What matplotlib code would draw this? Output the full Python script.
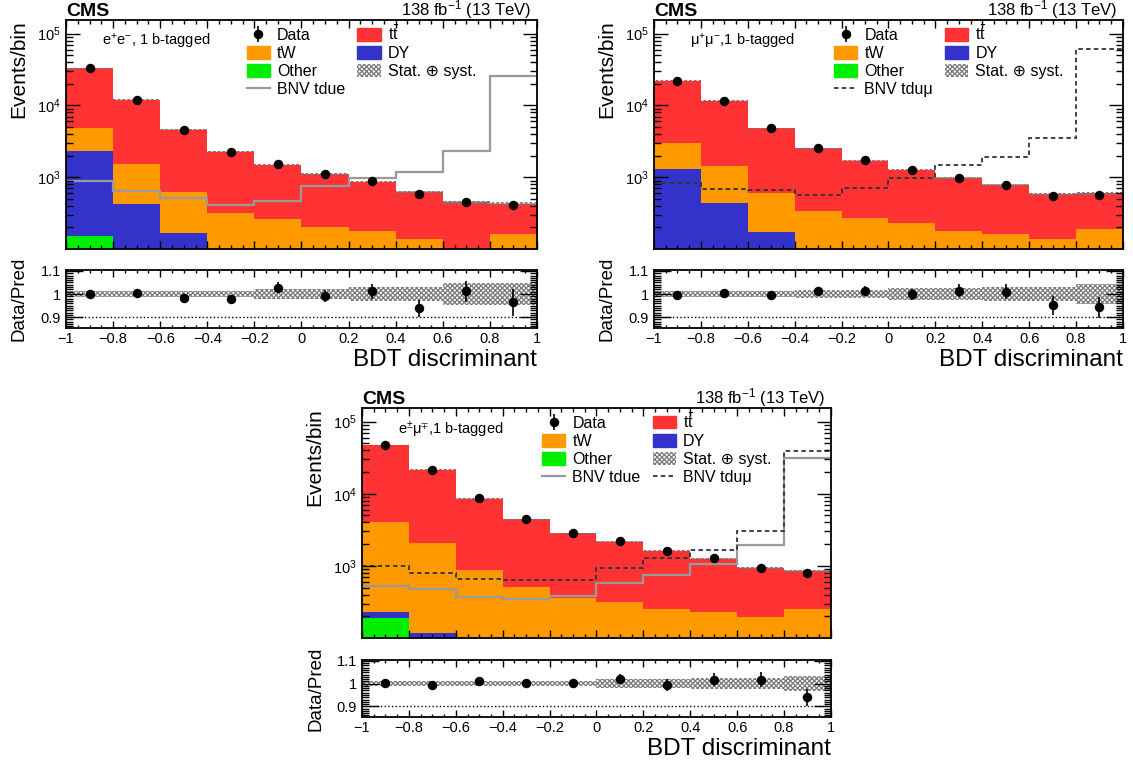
import numpy as np
import matplotlib
matplotlib.use('Agg')
import matplotlib.pyplot as plt
from matplotlib.patches import Patch
from matplotlib.lines import Line2D
from matplotlib.ticker import MultipleLocator, FixedLocator, FuncFormatter, LogLocator, NullFormatter

plt.rcParams['font.family'] = ['Liberation Sans', 'DejaVu Sans']
plt.rcParams['mathtext.fontset'] = 'custom'
plt.rcParams['mathtext.rm'] = 'Liberation Sans'
plt.rcParams['mathtext.it'] = 'Liberation Sans:italic'
plt.rcParams['mathtext.bf'] = 'Liberation Sans:bold'
plt.rcParams['mathtext.default'] = 'regular'
plt.rcParams['hatch.linewidth'] = 0.9
plt.rcParams['hatch.color'] = '#7a7a7a'

# BDT bins
bin_edges = [-1.0, -0.8, -0.6, -0.4, -0.2, 0.0, 0.2, 0.4, 0.6, 0.8, 1.0]

# ee channel
ee_other = [150, 60, 35, 20, 15, 12, 10, 8, 6, 8]
ee_dy = [2150, 360, 132, 40, 20, 12, 8, 5, 4, 3]
ee_tw = [2500, 1130, 463, 258, 225, 176, 159, 123, 94, 151]
ee_tt = [28200, 10450, 3970, 1962, 1240, 910, 693, 489, 346, 263]
ee_data = [33000, 12060, 4522, 2234, 1542, 1102, 880, 586, 455, 410]
ee_ratio_err = [0.006, 0.009, 0.014, 0.018, 0.024, 0.026, 0.033, 0.038, 0.047, 0.058]
ee_band = [0.015, 0.015, 0.015, 0.015, 0.023, 0.023, 0.029, 0.029, 0.047, 0.047]
ee_bnv_tdue = [880, 640, 520, 411, 462, 750, 960, 1190, 2300, 26000]

# mumu channel
mm_other = [60, 30, 20, 10, 8, 6, 5, 4, 3, 4]
mm_dy = [1230, 404, 151, 40, 20, 12, 8, 5, 4, 3]
mm_tw = [1690, 1021, 440, 289, 245, 210, 164, 151, 132, 185]
mm_tt = [19120, 10145, 4219, 2201, 1417, 1052, 793, 612, 446, 406]
mm_data = [22034, 11646, 4811, 2573, 1712, 1279, 984, 780, 556, 564]
mm_ratio_err = [0.005, 0.008, 0.012, 0.016, 0.02, 0.024, 0.028, 0.032, 0.04, 0.045]
mm_band = [0.013, 0.013, 0.013, 0.019, 0.019, 0.027, 0.027, 0.03, 0.03, 0.044]
mm_bnv_tdumu = [834, 687, 665, 566, 710, 980, 1470, 1940, 3540, 62000]

# emu channel
em_other = [191, 90, 45, 30, 22, 18, 14, 12, 10, 10]
em_dy = [40, 26, 15, 10, 8, 7, 6, 6, 5, 5]
em_tw = [3869, 1954, 829, 475, 332, 287, 235, 208, 180, 237]
em_tt = [43200, 19430, 7681, 3905, 2458, 1848, 1378, 1039, 733, 609]
em_data = [47440, 21370, 8680, 4430, 2830, 2205, 1622, 1287, 944, 809]
em_ratio_err = [0.005, 0.007, 0.011, 0.015, 0.019, 0.021, 0.025, 0.028, 0.033, 0.036]
em_band = [0.011, 0.011, 0.011, 0.011, 0.012, 0.02, 0.02, 0.025, 0.025, 0.033]
em_bnv_tdue = [532, 478, 374, 347, 378, 586, 750, 1077, 1940, 31800]
em_bnv_tdumu = [980, 807, 659, 638, 630, 948, 1280, 1670, 3040, 39000]

RED = '#ff3333'
ORANGE = '#ff9900'
BLUE = '#3333cc'
GREEN = '#00ee00'
HATCH = '#7a7a7a'

edges = np.array(bin_edges)
centers = 0.5 * (edges[1:] + edges[:-1])

tdue_style = dict(color='#999999', lw=1.6, ls='-')
tdumu_style = dict(color='#333333', lw=1.3, ls=(0, (2.5, 1.8)))

fig = plt.figure(figsize=(11.33, 7.69), dpi=100)


def xfmt(v, pos):
    s = '%g' % round(v, 2)
    if s == '-0':
        s = '0'
    return s.replace('-', '\u2212')


def draw_panel(rect_main, rect_ratio, other, dy, tw, tt, data, ratio_err, band,
               channel, bnv):
    other, dy, tw, tt = map(np.array, (other, dy, tw, tt))
    data = np.array(data)
    ratio_err = np.array(ratio_err)
    band = np.array(band)
    c1 = other
    c2 = c1 + dy
    c3 = c2 + tw
    c4 = c3 + tt

    ax = fig.add_axes(rect_main)
    ax.stairs(c4, edges, baseline=c3, fill=True, color=RED, lw=0)
    ax.stairs(c3, edges, baseline=c2, fill=True, color=ORANGE, lw=0)
    ax.stairs(c2, edges, baseline=c1, fill=True, color=BLUE, lw=0)
    ax.stairs(c1, edges, baseline=1, fill=True, color=GREEN, lw=0)
    ax.stairs(c4 * (1 + band), edges, baseline=c4 * (1 - band), fill=True,
              facecolor='none', edgecolor=HATCH, hatch='xxxxxxx', lw=0)

    bnv_handles = []
    for vals, name, style in bnv:
        ax.stairs(vals, edges, baseline=None, **style)
        bnv_handles.append((Line2D([], [], **style), name))

    hd = ax.errorbar(centers, data, yerr=data * ratio_err, fmt='o', color='k',
                     ms=5.8, elinewidth=1.2, capsize=0, zorder=5)

    ax.set_xlim(-1, 1)
    ax.set_yscale('log')
    ax.set_ylim(100, 1.55e5)
    ax.yaxis.set_major_locator(FixedLocator([1e3, 1e4, 1e5]))
    ax.yaxis.set_major_formatter(FuncFormatter(lambda v, p: '$10^{%d}$' % round(np.log10(v))))
    ax.yaxis.set_minor_locator(LogLocator(base=10, subs=np.arange(2, 10)))
    ax.yaxis.set_minor_formatter(NullFormatter())
    ax.xaxis.set_major_locator(MultipleLocator(0.2))
    ax.xaxis.set_minor_locator(MultipleLocator(0.05))
    ax.tick_params(which='both', direction='in', top=True, right=True,
                   labelbottom=False, labelsize=10.5)
    ax.tick_params(axis='y', which='major', length=10, width=1)
    ax.tick_params(axis='y', which='minor', length=5, width=1)
    ax.tick_params(axis='x', which='major', length=6, width=1)
    ax.tick_params(axis='x', which='minor', length=3, width=1)
    for s in ax.spines.values():
        s.set_linewidth(1.3)
    ax.set_ylabel('Events/bin', fontsize=15, loc='top')
    ax.yaxis.set_label_coords(-0.081, 1.0)

    ax.text(0.0, 1.018, 'CMS', transform=ax.transAxes, fontsize=14,
            fontweight='bold', ha='left', va='baseline')
    ax.text(0.988, 1.018, '138 fb$^{-1}$ (13 TeV)', transform=ax.transAxes,
            fontsize=12, ha='right', va='baseline')
    ax.text(0.076, 0.905, channel, transform=ax.transAxes, fontsize=10.5,
            va='center', ha='left')

    left = [(hd, 'Data'), (Patch(color=ORANGE), 'tW'), (Patch(color=GREEN), 'Other')]
    right = [(Patch(color=RED), r'$\mathrm{t\bar{t}}$'), (Patch(color=BLUE), 'DY'),
             (Patch(facecolor='white', edgecolor=HATCH, hatch='xxxxxxx', lw=0),
              'Stat. \u2295 syst.')]
    left.append(bnv_handles[0])
    if len(bnv_handles) > 1:
        right.append(bnv_handles[1])
    items = left + right
    ax.legend([h for h, _ in items], [l for _, l in items], ncol=2,
              loc='upper left', bbox_to_anchor=(0.384, 0.98), frameon=False,
              fontsize=11.5, handlelength=1.45, handleheight=0.85,
              handletextpad=0.45, columnspacing=0.75, labelspacing=0.2,
              borderpad=0, borderaxespad=0)

    # ratio panel
    axr = fig.add_axes(rect_ratio)
    axr.stairs(1 + band, edges, baseline=1 - band, fill=True,
               facecolor='none', edgecolor=HATCH, hatch='xxxxxxx', lw=0)
    axr.axhline(0.9, color='k', ls=':', lw=1)
    axr.errorbar(centers, data / c4, yerr=ratio_err, fmt='o', color='k',
                 ms=5.8, elinewidth=1.2, capsize=0, zorder=5)
    axr.set_xlim(-1, 1)
    axr.set_ylim(0.853, 1.104)
    axr.yaxis.set_major_locator(FixedLocator([0.9, 1.0, 1.1]))
    axr.yaxis.set_major_formatter(FuncFormatter(lambda v, p: '%g' % round(v, 2)))
    axr.yaxis.set_minor_locator(MultipleLocator(0.01))
    axr.xaxis.set_major_locator(MultipleLocator(0.2))
    axr.xaxis.set_minor_locator(MultipleLocator(0.05))
    axr.xaxis.set_major_formatter(FuncFormatter(xfmt))
    axr.tick_params(which='both', direction='in', top=True, right=True, labelsize=10.5)
    axr.tick_params(axis='y', which='major', length=12, width=1)
    axr.tick_params(axis='y', which='minor', length=5, width=1)
    axr.tick_params(axis='x', which='major', length=5, width=1, pad=3)
    axr.tick_params(axis='x', which='minor', length=2.5, width=1)
    for s in axr.spines.values():
        s.set_linewidth(1.3)
    axr.set_ylabel('Data/Pred', fontsize=13.5)
    axr.yaxis.set_label_coords(-0.081, 0.5)
    axr.set_xlabel('BDT discriminant', fontsize=17.5, loc='right')
    axr.xaxis.set_label_coords(1.0, -0.36)


draw_panel([0.05825, 0.6762, 0.4157, 0.2978], [0.05825, 0.5735, 0.4157, 0.0754],
           ee_other, ee_dy, ee_tw, ee_tt, ee_data, ee_ratio_err, ee_band,
           'e$^{+}$e$^{-}$, 1 b-tagged',
           [(ee_bnv_tdue, 'BNV tdue', tdue_style)])

draw_panel([0.5772, 0.6762, 0.4139, 0.2978], [0.5772, 0.5735, 0.4139, 0.0754],
           mm_other, mm_dy, mm_tw, mm_tt, mm_data, mm_ratio_err, mm_band,
           '\u03bc$^{+}$\u03bc$^{-}$,1 b-tagged',
           [(mm_bnv_tdumu, 'BNV tdu\u03bc', tdumu_style)])

draw_panel([0.3195, 0.1704, 0.4139, 0.2991], [0.3195, 0.0676, 0.4139, 0.0741],
           em_other, em_dy, em_tw, em_tt, em_data, em_ratio_err, em_band,
           'e$^{\\pm}$\u03bc$^{\\mp}$,1 b-tagged',
           [(em_bnv_tdue, 'BNV tdue', tdue_style),
            (em_bnv_tdumu, 'BNV tdu\u03bc', tdumu_style)])

fig.savefig('out.png', dpi=100)
